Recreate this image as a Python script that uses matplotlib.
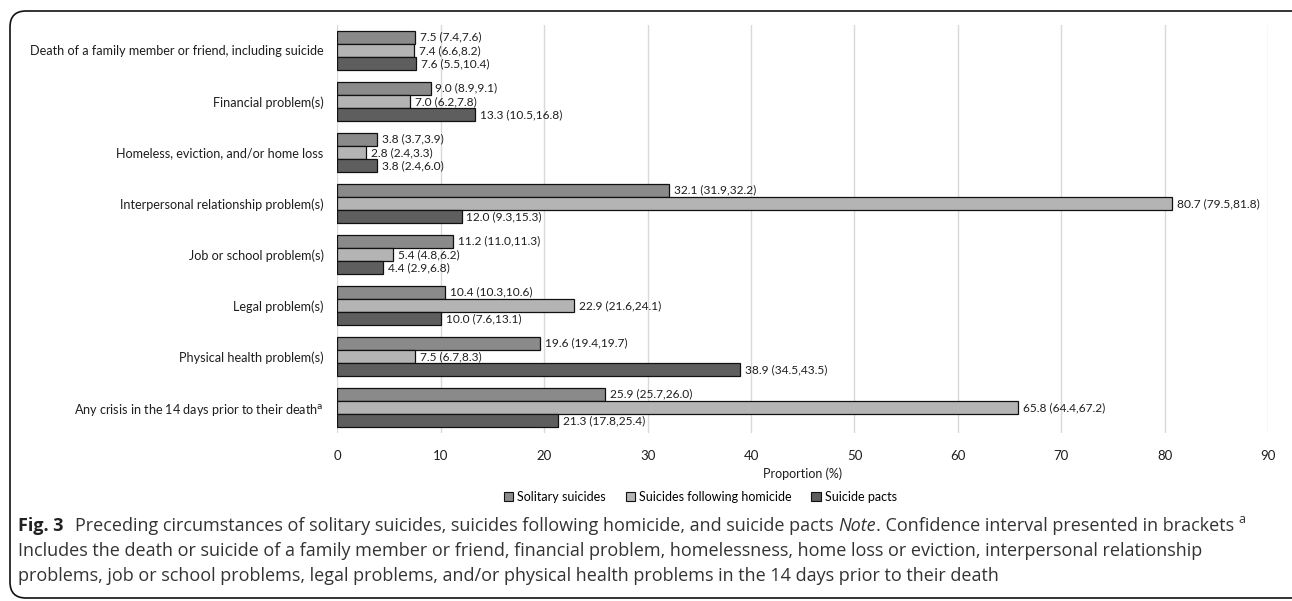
import numpy as np
import matplotlib.pyplot as plt
from matplotlib.patches import Patch, FancyBboxPatch

categories = [
    "Death of a family member or friend, including suicide",
    "Financial problem(s)",
    "Homeless, eviction, and/or home loss",
    "Interpersonal relationship problem(s)",
    "Job or school problem(s)",
    "Legal problem(s)",
    "Physical health problem(s)",
    "Any crisis in the 14 days prior to their death$^{\\mathrm{a}}$",
]
series = ["Solitary suicides", "Suicides following homicide", "Suicide pacts"]

solitary = [7.5, 9.0, 3.8, 32.1, 11.2, 10.4, 19.6, 25.9]
solitary_lo = [7.4, 8.9, 3.7, 31.9, 11.0, 10.3, 19.4, 25.7]
solitary_hi = [7.6, 9.1, 3.9, 32.2, 11.3, 10.6, 19.7, 26.0]

homicide = [7.4, 7.0, 2.8, 80.7, 5.4, 22.9, 7.5, 65.8]
homicide_lo = [6.6, 6.2, 2.4, 79.5, 4.8, 21.6, 6.7, 64.4]
homicide_hi = [8.2, 7.8, 3.3, 81.8, 6.2, 24.1, 8.3, 67.2]

pacts = [7.6, 13.3, 3.8, 12.0, 4.4, 10.0, 38.9, 21.3]
pacts_lo = [5.5, 10.5, 2.4, 9.3, 2.9, 7.6, 34.5, 17.8]
pacts_hi = [10.4, 16.8, 6.0, 15.3, 6.8, 13.1, 43.5, 25.4]

colors = ["#8a8a8a", "#b4b4b4", "#5e5e5e"]
chart_font = "Lato"
text_col = "#1e1e1e"

fig = plt.figure(figsize=(12.92, 6.01), dpi=100)
ax = fig.add_axes([0.2612, 0.2795, 0.7203, 0.679])

y = np.arange(len(categories))
h = 0.26
data = [(solitary, solitary_lo, solitary_hi),
        (homicide, homicide_lo, homicide_hi),
        (pacts, pacts_lo, pacts_hi)]

for i, (vals, lo, hi) in enumerate(data):
    pos = y + (i - 1) * h
    ax.barh(pos, vals, height=h, color=colors[i], edgecolor="#111111",
            linewidth=0.9, zorder=3)
    for p, v, a, b in zip(pos, vals, lo, hi):
        ax.annotate(f"{v:.1f} ({a:.1f},{b:.1f})", (v, p), xytext=(3.5, 0),
                    textcoords="offset points", va="center", ha="left",
                    fontsize=8.6, family=chart_font, color=text_col, zorder=4)

ax.set_xlim(0, 90)
ax.set_xticks(range(0, 91, 10))
ax.set_ylim(len(categories) - 0.5, -0.5)
ax.set_yticks(y)
ax.set_yticklabels(categories, family=chart_font, fontsize=9.1, color=text_col)
for lab in ax.get_xticklabels():
    lab.set_family(chart_font)
    lab.set_fontsize(9.5)
    lab.set_color(text_col)
ax.tick_params(length=0)
ax.tick_params(axis="x", pad=12)
ax.tick_params(axis="y", pad=10)
ax.grid(axis="x", color="#d9d9d9", linewidth=1, zorder=0)
for s in ax.spines.values():
    s.set_visible(False)
ax.set_xlabel("Proportion (%)", family=chart_font, fontsize=9, color=text_col,
              labelpad=4)

handles = [Patch(facecolor=c, edgecolor="#111111", linewidth=0.8) for c in colors]
fig.legend(handles, series, loc="center", bbox_to_anchor=(0.542, 0.173),
           ncol=3, frameon=False, prop={"family": chart_font, "size": 9},
           handlelength=0.75, handleheight=0.75, handletextpad=0.3,
           columnspacing=1.6)

# caption below the chart
cap_font = "Open Sans"
cap_size = 13.0
cap_col = "#333333"
renderer = fig.canvas.get_renderer()


def put(x, yy, s, **kw):
    kw.setdefault("color", cap_col)
    t = fig.text(x, yy, s, fontsize=kw.pop("size", cap_size), family=cap_font,
                 va="baseline", **kw)
    bb = t.get_window_extent(renderer)
    return x + bb.width / fig.bbox.width


gap = 0.0035
x0 = 0.0140
yl = 1 - 531 / 601
x = put(x0, yl, "Fig. 3", weight="bold", color="#222222")
x = put(x + 2.6 * gap, yl, "Preceding circumstances of solitary suicides, suicides following homicide, and suicide pacts")
x = put(x + gap, yl, "Note", style="italic")
x = put(x, yl, ". Confidence interval presented in brackets")
put(x + gap, yl + 0.013, "a", size=9)
put(x0, 1 - 556 / 601, "Includes the death or suicide of a family member or friend, financial problem, "
    "homelessness, home loss or eviction, interpersonal relationship")
put(x0, 1 - 581 / 601, "problems, job or school problems, legal problems, and/or physical health "
    "problems in the 14 days prior to their death")

box = FancyBboxPatch((0.10, 0.03), 13.0, 5.87,
                     boxstyle="round,pad=0,rounding_size=0.16",
                     transform=fig.dpi_scale_trans, facecolor="none",
                     edgecolor="#111111", linewidth=1.2, clip_on=False)
fig.patches.append(box)

fig.savefig("out.png", dpi=100)
